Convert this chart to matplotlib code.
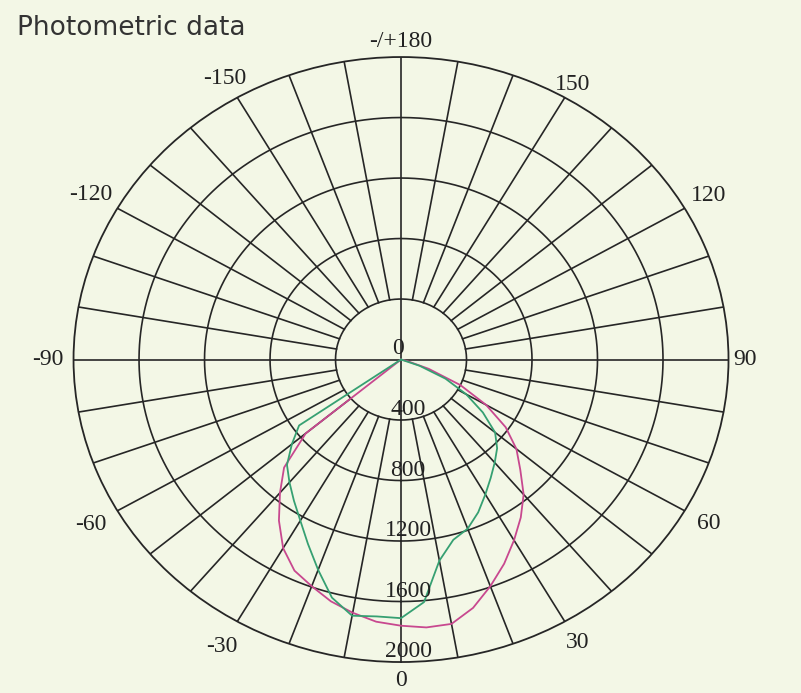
import numpy as np
import matplotlib
matplotlib.use("Agg")
import matplotlib.pyplot as plt

# ---- data ----
magenta_angles = [-55, -50, -45, -40, -35, -30, -25, -20, -15, -10, -5, 0, 5, 10,
                  15, 20, 25, 30, 35, 40, 45, 50, 55, 60, 65, 70, 75, 80]
magenta_vals = [0, 760, 1010, 1150, 1300, 1440, 1540, 1595, 1655, 1700, 1740, 1760, 1778, 1775,
                1700, 1595, 1490, 1380, 1275, 1165, 1030, 920, 780, 600, 400, 180, 40, 0]

green_angles = [-60, -55, -50, -45, -40, -35, -30, -25, -20, -15, -10, -5, 0, 5,
                10, 15, 20, 25, 30, 35, 40, 45, 50, 55, 60, 65, 70, 75]
green_vals = [0, 760, 870, 985, 1060, 1140, 1230, 1345, 1480, 1630, 1720, 1705, 1710, 1610,
              1350, 1234, 1190, 1115, 1030, 955, 890, 830, 750, 610, 460, 300, 120, 0]

ring_values = [400, 800, 1200, 1600, 2000]
ring_labels = ["400", "800", "1200", "1600", "2000"]
angle_ticks = [180, 150, 120, 90, 60, 30, 0, -30, -60, -90, -120, -150]
angle_labels = ["-/+180", "150", "120", "90", "60", "30", "0", "-30", "-60", "-90", "-120", "-150"]
rmax = 2000

# layout: label distance factors (relative to outer ring)
label_rfac = [1.05, 1.05, 1.085, 1.05, 1.086, 1.079, 1.062, 1.096, 1.094, 1.078, 1.094, 1.074]

bg = "#F3F7E6"
gridc = "#262626"

fig = plt.figure(figsize=(8.01, 6.93), dpi=100, facecolor=bg)
ax = fig.add_axes([0.0918, 0.0447, 0.8177, 0.873], projection="polar")
ax.set_aspect("auto")
ax.set_facecolor(bg)
ax.set_theta_zero_location("S")
ax.set_theta_direction(1)
ax.set_ylim(0, rmax)
ax.grid(False)
ax.set_xticks([])
ax.set_yticks([])
ax.spines["polar"].set_color(gridc)
ax.spines["polar"].set_linewidth(1.3)

# rings
th = np.linspace(0, 2 * np.pi, 721)
for rv in ring_values[:-1]:
    ax.plot(th, np.full_like(th, rv), color=gridc, lw=1.2, zorder=2)

# spokes every 10 deg from inner ring, main axes through centre
for a in range(0, 360, 10):
    r0 = 0 if a % 90 == 0 else ring_values[0]
    ax.plot([np.deg2rad(a)] * 2, [r0, rmax], color=gridc, lw=1.2, zorder=2)

# curves
ax.plot(np.deg2rad(magenta_angles), magenta_vals, color="#C8488F", lw=1.3, zorder=3)
ax.plot(np.deg2rad(green_angles), green_vals, color="#36A072", lw=1.3, zorder=3)

serif = ["Liberation Serif", "DejaVu Serif"]
fs = 17
# radial labels
ax.annotate("0", xy=(0, 0), xytext=(-3, 1), textcoords="offset pixels",
            ha="center", va="bottom", fontsize=fs, family=serif, color="#222", zorder=4)
for rv, lab in zip(ring_values, ring_labels):
    ax.annotate(lab, xy=(0, rv), xytext=(7, 0), textcoords="offset pixels",
                ha="center", va="bottom", fontsize=fs, family=serif, color="#222", zorder=4)

# angle labels
for a, lab, f in zip(angle_ticks, angle_labels, label_rfac):
    ax.text(np.deg2rad(a), rmax * f, lab, ha="center", va="center",
            fontsize=fs, family=serif, color="#222", clip_on=False)

fig.text(17 / 801, 1 - 35 / 693, "Photometric data", ha="left", va="baseline",
         fontsize=19, family=["DejaVu Sans"], color="#333333")

fig.savefig("out.png", dpi=100, facecolor=bg)
